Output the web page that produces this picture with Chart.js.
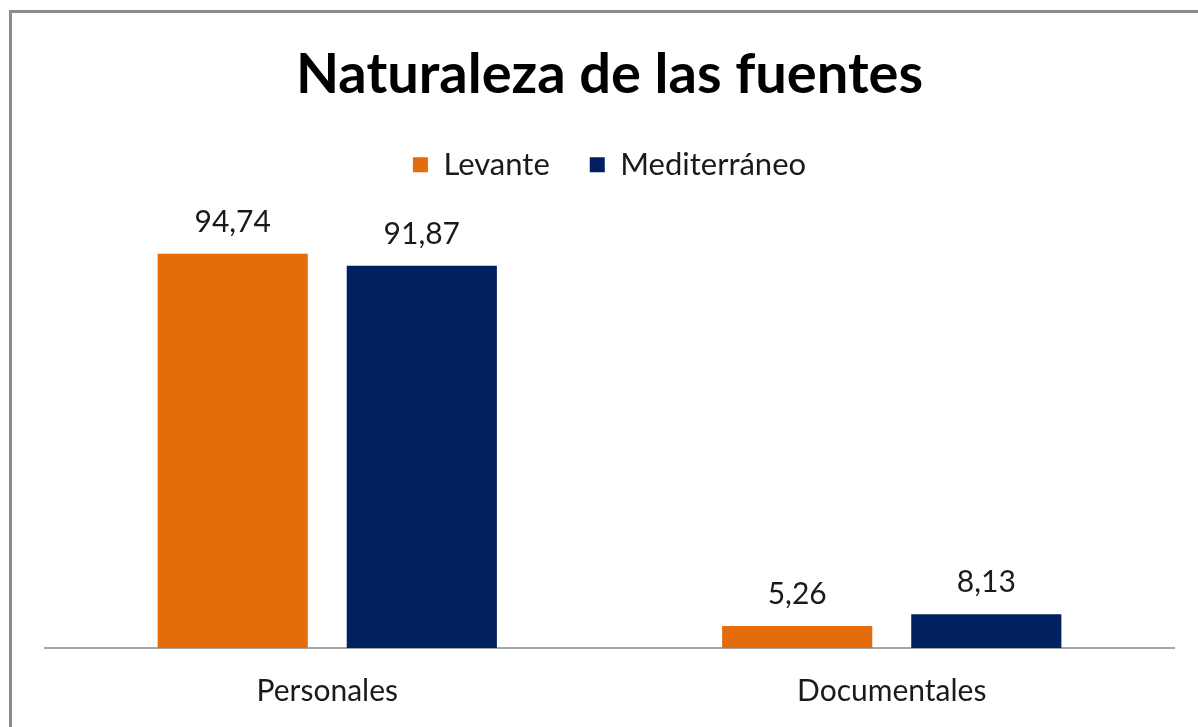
<!DOCTYPE html>
<html>
<head>
<meta charset="utf-8">
<script src="https://cdn.jsdelivr.net/npm/chart.js@4"></script>
<style>
    html, body { margin: 0; padding: 0; background: #fff; overflow: hidden; }
    #wrap { position: relative; width: 1198px; height: 727px; }
    #frame { position: absolute; left: 9px; top: 10px; right: -10px; bottom: -10px; border-left: 3px solid #8c8c8c; border-top: 3px solid #8c8c8c; }
    canvas { position: absolute; left: 0; top: 0; }
</style>
</head>
<body>
<div id="wrap">
    <div id="frame"></div>
    <canvas id="chart" width="1198" height="727"></canvas>
</div>
<script>
// datos del gráfico
const categorias = ['Personales', 'Documentales'];
const levante = [94.74, 5.26];
const mediterraneo = [91.87, 8.13];
const series = ['Levante', 'Mediterráneo'];

const FONT = "Lato, 'Open Sans', sans-serif";

// etiquetas encima de cada barra (94,74 ...)
const valueLabels = {
    id: 'valueLabels',
    afterDatasetsDraw(chart) {
        const ctx = chart.ctx;
        ctx.save();
        ctx.font = `30px ${FONT}`;
        ctx.fillStyle = '#1a1a1a';
        ctx.textAlign = 'center';
        ctx.textBaseline = 'alphabetic';
        chart.data.datasets.forEach((ds, i) => {
            chart.getDatasetMeta(i).data.forEach((bar, j) => {
                const txt = ds.data[j].toFixed(2).replace('.', ',');
                ctx.fillText(txt, bar.x, bar.y - 22);
            });
        });
        ctx.restore();
    }
};

new Chart(document.getElementById('chart'), {
    type: 'bar',
    data: {
        labels: categorias,
        datasets: [
            { label: series[0], data: levante, backgroundColor: '#e46c0a' },
            { label: series[1], data: mediterraneo, backgroundColor: '#002060' }
        ]
    },
    options: {
        responsive: false,
        animation: false,
        categoryPercentage: 0.67,
        barPercentage: 0.794,
        layout: { padding: { top: 31, left: 45, right: 24, bottom: 0 } },
        plugins: {
            title: {
                display: true,
                text: 'Naturaleza de las fuentes',
                color: '#000',
                font: { family: FONT, size: 56, weight: 'bold' },
                padding: { top: 10, bottom: 1 }
            },
            legend: {
                labels: {
                    color: '#1a1a1a',
                    font: { family: FONT, size: 31 },
                    boxWidth: 15,
                    boxHeight: 15,
                    padding: 40
                }
            },
            tooltip: { enabled: false }
        },
        scales: {
            y: { display: false, min: 0, max: 110 },
            x: {
                grid: { display: false, drawTicks: false },
                border: { display: true, color: '#a6a6a6', width: 2 },
                ticks: { color: '#1a1a1a', font: { family: FONT, size: 30 }, padding: 25 },
                afterFit(scale) { scale.height = 79; }
            }
        }
    },
    plugins: [valueLabels]
});
</script>
</body>
</html>
